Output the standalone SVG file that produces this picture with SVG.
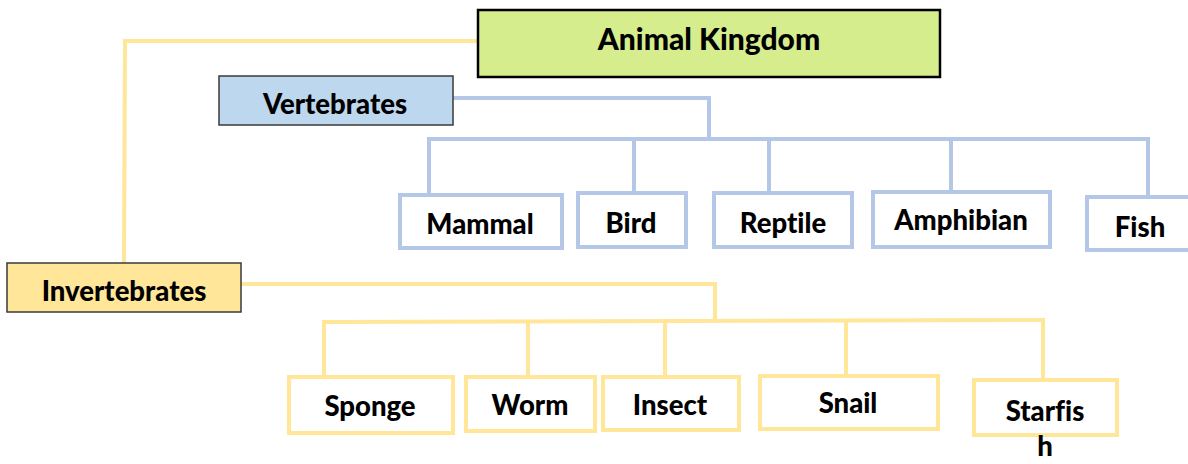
<svg xmlns="http://www.w3.org/2000/svg" width="1188" height="464" viewBox="0 0 1188 464">
<style>
text{font-family:Lato,"Open Sans","Liberation Sans",sans-serif;font-weight:900;fill:#000;text-anchor:middle;font-variant-ligatures:none}
.t1{font-size:30px}
.t2{font-size:27.5px}
.t3{font-size:27.5px}
.vb{fill:#fff;stroke:#b4c7e7;stroke-width:4}
.ib{fill:#fff;stroke:#ffe699;stroke-width:4}
.bl{fill:none;stroke:#b4c7e7;stroke-width:4}
.yl{fill:none;stroke:#ffe699;stroke-width:4}
</style>
<rect width="1188" height="464" fill="#fff"/>
<g id="connectors">
<polyline class="yl" points="478,41 125,41 124,263"/>
<polyline class="bl" points="453,98 709,98 709,141"/>
<polyline class="bl" points="429,195 429,139 1148,139 1148,197"/>
<line class="bl" x1="634" y1="139" x2="634" y2="193"/>
<line class="bl" x1="769" y1="139" x2="769" y2="193"/>
<line class="bl" x1="951" y1="139" x2="951" y2="192"/>
<polyline class="yl" points="241,284 715,284 715,320"/>
<polyline class="yl" points="324,379 324,322 1043,320 1043,380"/>
<line class="yl" x1="528" y1="322" x2="528" y2="377"/>
<line class="yl" x1="665" y1="321" x2="665" y2="376"/>
<line class="yl" x1="846" y1="321" x2="846" y2="376"/>
</g>
<g id="animal-kingdom">
<rect x="478" y="10" width="462" height="67" fill="#d5ed8c" stroke="#000" stroke-width="2.5"/>
<text class="t1" x="709" y="50">Animal Kingdom</text>
</g>
<g id="vertebrates">
<rect x="219" y="76" width="234" height="49" fill="#bdd7ee" stroke="#3a3a3a" stroke-width="1.5"/>
<text class="t2" x="335" y="114">Vertebrates</text>
</g>
<g id="invertebrates">
<rect x="7" y="263" width="234" height="49" fill="#ffe699" stroke="#3a3a3a" stroke-width="1.5"/>
<text class="t2" x="124" y="301">Invertebrates</text>
</g>
<g id="mammal"><rect class="vb" x="400" y="195" width="162" height="53"/><text class="t3" x="480" y="234">Mammal</text></g>
<g id="bird"><rect class="vb" x="578" y="193" width="108" height="54"/><text class="t3" x="631" y="233">Bird</text></g>
<g id="reptile"><rect class="vb" x="714" y="193" width="138" height="54"/><text class="t3" x="783" y="233">Reptile</text></g>
<g id="amphibian"><rect class="vb" x="873" y="192" width="177" height="55"/><text class="t3" x="961" y="230">Amphibian</text></g>
<g id="fish"><rect class="vb" x="1087" y="197" width="106" height="53"/><text class="t3" x="1140" y="237">Fish</text></g>
<g id="sponge"><rect class="ib" x="289" y="377" width="164" height="56"/><text class="t3" x="370" y="416">Sponge</text></g>
<g id="worm"><rect class="ib" x="466" y="377" width="129" height="54"/><text class="t3" x="530" y="415">Worm</text></g>
<g id="insect"><rect class="ib" x="603" y="377" width="136" height="53"/><text class="t3" x="670" y="415">Insect</text></g>
<g id="snail"><rect class="ib" x="760" y="376" width="178" height="53"/><text class="t3" x="848" y="413">Snail</text></g>
<g id="starfish"><rect class="ib" x="974" y="380" width="143" height="55"/><text class="t3" x="1045" y="421">Starfis</text><text class="t3" x="1045" y="456">h</text></g>
</svg>
